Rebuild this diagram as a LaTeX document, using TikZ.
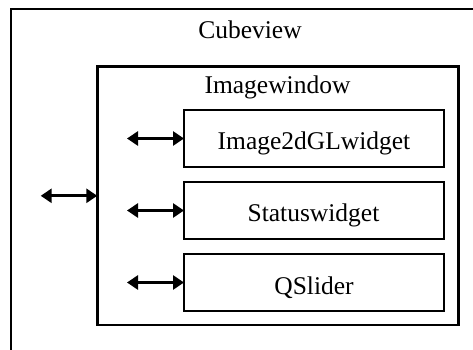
\documentclass[tikz,border=0pt]{standalone}
\usepackage{fontspec}
\setmainfont{Liberation Serif}
\usetikzlibrary{arrows.meta}

\begin{document}
\begin{tikzpicture}[x  = {(1pt,0pt)},
                    y  = {(0pt,-1pt)},
                    font = {\fontsize{25.5}{29}\selectfont}]

  \useasboundingbox (0,0) rectangle (473,350);
  \clip (0,0) rectangle (473,350);


  % EDGES STYLE
  \definecolor{edgecolor_cv}{rgb}{ 0,0,0 }
  \tikzstyle{boxstyle_cv} = [fill=none, draw=edgecolor_cv, line width=2.6pt, inner sep=0pt, outer sep=0pt]
  \tikzstyle{labelstyle_cv} = [anchor=base, inner sep=0pt]
  \tikzstyle{linkstyle_cv} = [draw=edgecolor_cv, line width=3pt, >={Triangle[length=11pt,width=14pt]}, <->]


  % DEF BOXES
  \node[boxstyle_cv, minimum width=480pt, minimum height=362pt] (cubeview) at (251, 190) {};
  \node[boxstyle_cv, minimum width=361pt, minimum height=258pt] (imagewindow) at (277.8, 195.8) {};
  \node[boxstyle_cv, minimum width=260pt, minimum height=57pt] (image2dgl) at (314, 138.5) {};
  \node[boxstyle_cv, minimum width=260pt, minimum height=57pt] (statuswidget) at (314, 210.5) {};
  \node[boxstyle_cv, minimum width=260pt, minimum height=57pt] (qslider) at (314, 282.5) {};


  % DEF LABELS
  \node[labelstyle_cv] (cubeview_lbl) at (250, 38.3) {Cubeview};
  \node[labelstyle_cv] (imagewindow_lbl) at (277.5, 94) {Imagewindow};
  \node[labelstyle_cv] (image2dgl_lbl) at (314, 149.3) {Image2dGLwidget};
  \node[labelstyle_cv] (statuswidget_lbl) at (313.5, 221) {Statuswidget};
  \node[labelstyle_cv] (qslider_lbl) at (314, 294) {QSlider};


  % DEF POINTS
  \coordinate (link_iw) at (40.7, 195.8);
  \coordinate (link_gl) at (127, 138.5);
  \coordinate (link_st) at (127, 210.5);
  \coordinate (link_qs) at (127, 282.5);


  % LINKS
  \draw[linkstyle_cv] (link_iw) -- (imagewindow.west);
  \draw[linkstyle_cv] (link_gl) -- (image2dgl.west);
  \draw[linkstyle_cv] (link_st) -- (statuswidget.west);
  \draw[linkstyle_cv] (link_qs) -- (qslider.west);

\end{tikzpicture}
\end{document}
